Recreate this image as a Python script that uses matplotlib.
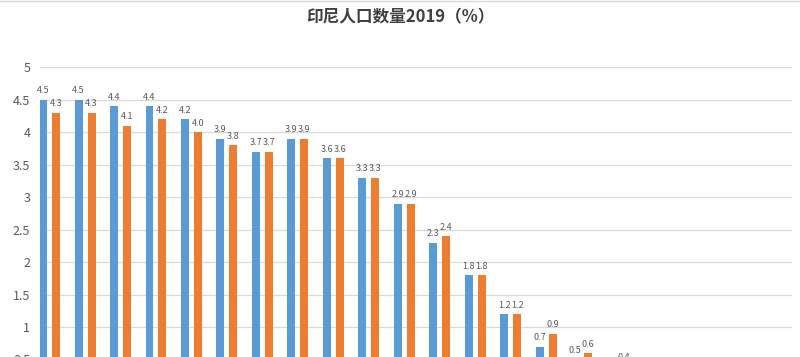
import numpy as np
import matplotlib
matplotlib.use('Agg')
import matplotlib.pyplot as plt

plt.rcParams['font.family'] = ['Noto Sans CJK SC', 'DejaVu Sans']

# Age groups (0-4 ... 100+), share of total population, 2019
age_groups = ['0-4', '5-9', '10-14', '15-19', '20-24', '25-29', '30-34', '35-39',
              '40-44', '45-49', '50-54', '55-59', '60-64', '65-69', '70-74',
              '75-79', '80-84', '85-89', '90-94', '95-99', '100+']
male = [4.5, 4.5, 4.4, 4.4, 4.2, 3.9, 3.7, 3.9, 3.6, 3.3, 2.9, 2.3, 1.8, 1.2,
        0.7, 0.5, 0.3, 0.1, 0.0, 0.0, 0.0]
female = [4.3, 4.3, 4.1, 4.2, 4.0, 3.8, 3.7, 3.9, 3.6, 3.3, 2.9, 2.4, 1.8, 1.2,
          0.9, 0.6, 0.4, 0.2, 0.1, 0.0, 0.0]
y_ticks = [0.5, 1, 1.5, 2, 2.5, 3, 3.5, 4, 4.5, 5]

blue = '#5B9BD5'
orange = '#ED7D31'
label_color = '#595959'

fig = plt.figure(figsize=(8, 3.57), dpi=100)
# the original screenshot is cut off at the bottom, so the axes run past the figure edge
ax = fig.add_axes([0.05, -0.098, 0.94, 0.910])

x = np.arange(len(age_groups))
w = 0.225
off = 0.183
b1 = ax.bar(x - off, male, width=w, color=blue, zorder=2)
b2 = ax.bar(x + off, female, width=w, color=orange, zorder=2)

for bars, vals in [(b1, male), (b2, female)]:
    for rect, v in zip(bars, vals):
        if v < 0.35:
            continue  # these labels fall below the cropped edge
        ax.annotate(f'{v:.1f}', (rect.get_x() + rect.get_width() / 2, v),
                    xytext=(0, 3), textcoords='offset points',
                    ha='center', va='bottom', fontsize=6.5, color=label_color)

ax.set_xlim(-0.27, 20.93)
ax.set_ylim(0, 5)
ax.set_yticks(y_ticks)
ax.set_yticklabels([f'{v:g}' for v in y_ticks])
ax.set_xticks([])
ax.tick_params(axis='y', length=0, labelsize=9, labelcolor=label_color, pad=7)
ax.yaxis.grid(True, color='#D9D9D9', linewidth=0.9, zorder=0)
for s in ax.spines.values():
    s.set_visible(False)

fig.text(0.5, 0.952, '印尼人口数量2019（%）', ha='center', va='center',
         fontsize=12, fontweight='bold', color='#404040')
fig.add_artist(plt.Line2D([0, 1], [0.997, 0.997], color='#D9D9D9', linewidth=1))

fig.savefig('out.png', dpi=100)
